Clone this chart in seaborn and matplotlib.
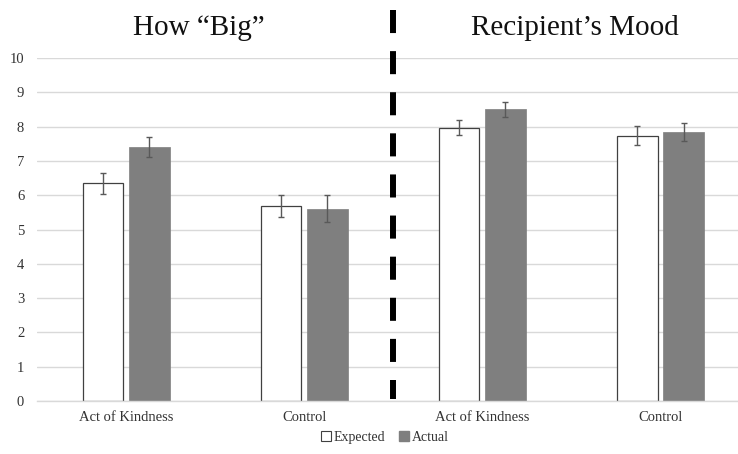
import pandas as pd
import matplotlib
matplotlib.use("Agg")
import matplotlib.pyplot as plt
import seaborn as sns
from matplotlib.patches import Patch

# datos
conditions = ["big_kind", "big_ctrl", "mood_kind", "mood_ctrl"]
tick_labels = ["Act of Kindness", "Control", "Act of Kindness", "Control"]
expected = [6.35, 5.69, 7.97, 7.74]
actual = [7.40, 5.60, 8.50, 7.84]
expected_err = [0.31, 0.315, 0.22, 0.285]
actual_err = [0.30, 0.395, 0.225, 0.265]
panel_titles = ["How \u201cBig\u201d", "Recipient\u2019s Mood"]

df = pd.DataFrame({
    "cond": conditions * 2,
    "serie": ["Expected"] * 4 + ["Actual"] * 4,
    "valor": expected + actual,
})

sns.set_style("white")
plt.rcParams["font.family"] = ["Liberation Serif", "DejaVu Serif"]

fig = plt.figure(figsize=(7.38, 4.54), dpi=100)
ax = fig.add_axes([0.0497, 0.1167, 0.9503, 0.7555])

sns.barplot(data=df, x="cond", y="valor", hue="serie", order=conditions,
            hue_order=["Expected", "Actual"],
            palette={"Expected": "white", "Actual": "#7f7f7f"},
            width=0.52, gap=0.123, errorbar=None, legend=False, ax=ax)

# bordes: blancas con borde oscuro, grises sin borde
for p in ax.containers[0]:
    p.set_edgecolor("#404040")
    p.set_linewidth(0.9)
for p in ax.containers[1]:
    p.set_edgecolor("#7f7f7f")
    p.set_linewidth(0.5)

# barras de error
for cont, errs in zip(ax.containers, [expected_err, actual_err]):
    xs = [p.get_x() + p.get_width() / 2 for p in cont]
    ys = [p.get_height() for p in cont]
    ax.errorbar(xs, ys, yerr=errs, fmt="none", ecolor="#595959",
                elinewidth=1, capsize=2.3, capthick=1, zorder=5)

ax.set_xlim(-0.503, 3.436)
ax.set_ylim(0, 10)
ax.set_yticks(range(0, 11))
ax.set_xticks(range(4))
ax.set_xticklabels(tick_labels)
ax.set_xlabel("")
ax.set_ylabel("")
ax.tick_params(axis="both", length=0, labelsize=10.5, colors="#333333")
ax.tick_params(axis="x", pad=7)
ax.tick_params(axis="y", pad=9)

ax.yaxis.grid(True, color="#d9d9d9", linewidth=1)
ax.set_axisbelow(True)
for s in ["top", "right", "left"]:
    ax.spines[s].set_visible(False)
ax.spines["bottom"].set_color("#d9d9d9")
ax.spines["bottom"].set_linewidth(1)

# linea divisoria punteada
lw = 4.3
ax.plot([1.5, 1.5], [11.41, 0.05], color="black", linewidth=lw,
        linestyle=(0, (16.6 / lw, 13.0 / lw)), clip_on=False, zorder=6,
        solid_capstyle="butt", dash_capstyle="butt")

# titulos de cada panel
ax.text(0.41, 10.88, panel_titles[0], ha="center", va="center", fontsize=21,
        color="#111111", clip_on=False)
ax.text(2.52, 10.88, panel_titles[1], ha="center", va="center", fontsize=21,
        color="#111111", clip_on=False)

handles = [Patch(facecolor="white", edgecolor="#404040", linewidth=0.8, label="Expected"),
           Patch(facecolor="#7f7f7f", edgecolor="#7f7f7f", label="Actual")]
fig.legend(handles=handles, loc="center", bbox_to_anchor=(0.522, 0.037), ncol=2,
           frameon=False, fontsize=10, handlelength=0.7, handleheight=0.7,
           handletextpad=0.2, columnspacing=1.0, labelcolor="#333333")

fig.savefig("out.png", dpi=100)
